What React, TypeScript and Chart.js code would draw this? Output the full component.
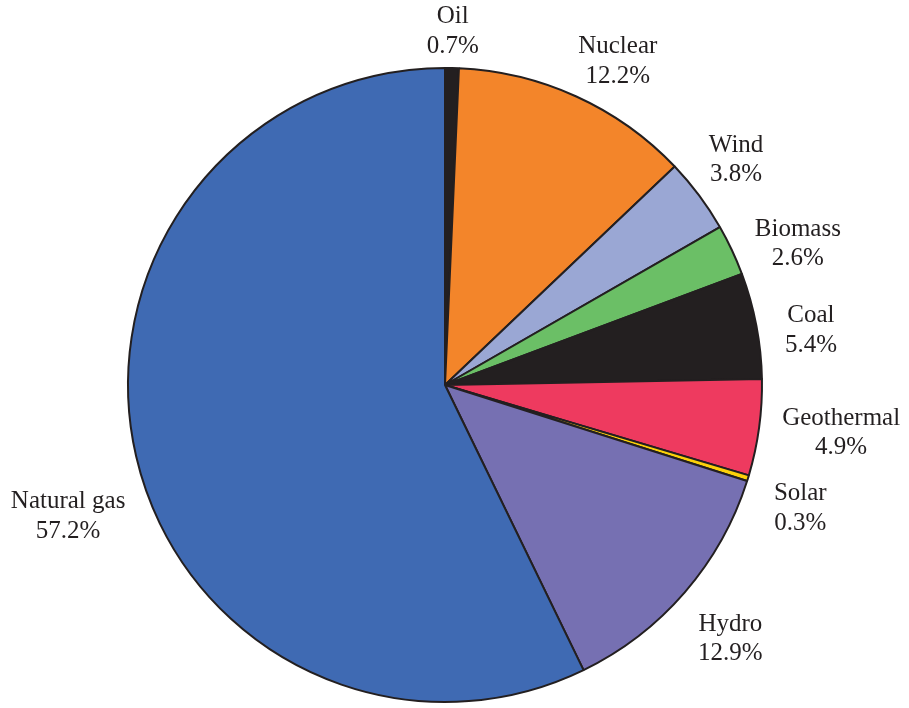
import React, { useEffect, useRef } from "react";
import { Chart, registerables } from "chart.js";

Chart.register(...registerables);

const categories = ["Oil", "Nuclear", "Wind", "Biomass", "Coal", "Geothermal", "Solar", "Hydro", "Natural gas"];
const shares = [0.7, 12.2, 3.8, 2.6, 5.4, 4.9, 0.3, 12.9, 57.2];
const sliceColors = ["#231f20", "#f3852a", "#9aa7d4", "#6bbf66", "#231f20", "#ee3a5f", "#fcd10a", "#7670b2", "#3f6ab3"];
// label layout: distance from pie centre and angular nudge (degrees) from slice mid-angle
const labelDistance = [354, 367, 368, 380, 370, 399, 376, 382, 399];
const labelAngleNudge = [0, 3.6, -1, 3.4, 2.3, -0.9, 2, 0.8, -6.2];

const FONT = "25px 'Liberation Serif', 'Times New Roman', serif";
const TEXT_COLOR = "#231f20";

const labelPlugin = {
  id: "outerLabels",
  afterDatasetsDraw(chart: any) {
    const ctx = chart.ctx;
    const meta = chart.getDatasetMeta(0);
    ctx.save();
    ctx.font = FONT;
    ctx.fillStyle = TEXT_COLOR;
    ctx.textAlign = "center";
    ctx.textBaseline = "middle";
    meta.data.forEach((arc: any, i: number) => {
      const { x, y, startAngle, endAngle } = arc.getProps(["x", "y", "startAngle", "endAngle"], true);
      const mid = (startAngle + endAngle) / 2 + (labelAngleNudge[i] * Math.PI) / 180;
      const d = labelDistance[i];
      const cx = x + d * Math.cos(mid);
      const cy = y + d * Math.sin(mid);
      ctx.fillText(categories[i], cx, cy - 14.5);
      ctx.fillText(shares[i].toFixed(1) + "%", cx, cy + 15);
    });
    ctx.restore();
  },
};

export default function App() {
  const canvasRef = useRef<HTMLCanvasElement | null>(null);

  useEffect(() => {
    document.body.style.margin = "0";
    const canvas = canvasRef.current;
    if (!canvas) return;
    const chart = new Chart(canvas, {
      type: "pie",
      data: {
        labels: categories,
        datasets: [
          {
            data: shares,
            backgroundColor: sliceColors,
            borderColor: "#231f20",
            borderWidth: 2,
          },
        ],
      },
      options: {
        responsive: false,
        animation: false,
        rotation: 0,
        layout: { padding: { top: 67, bottom: 5, left: 127, right: 146 } },
        plugins: {
          legend: { display: false },
          tooltip: { enabled: false },
        },
      },
      plugins: [labelPlugin],
    });
    return () => chart.destroy();
  }, []);

  return (
    <div style={{ width: 909, height: 708, background: "#ffffff" }}>
      <canvas ref={canvasRef} width={909} height={708} style={{ display: "block" }} />
    </div>
  );
}
